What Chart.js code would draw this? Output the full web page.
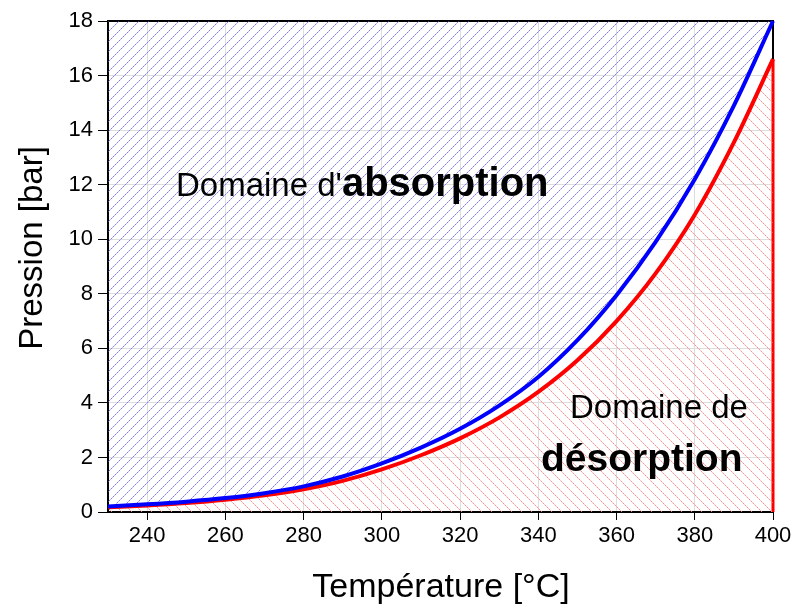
<!DOCTYPE html>
<html>
<head>
<meta charset="utf-8">
<script src="https://cdn.jsdelivr.net/npm/chart.js@4/dist/chart.umd.min.js"></script>
<style>
  html, body { margin: 0; padding: 0; background: #fff; }
  #wrap { width: 795px; height: 604px; }
</style>
</head>
<body>
<div id="wrap"><canvas id="c" width="795" height="604"></canvas></div>
<script>
// Température [°C]
const temps = [230, 240, 250, 260, 270, 280, 290, 300, 310, 320, 330, 340, 350, 360, 370, 380, 390, 400];
// Pression d'absorption (bleu) et de désorption (rouge) [bar]
const absorption = [0.20, 0.28, 0.38, 0.51, 0.69, 0.94, 1.30, 1.78, 2.36, 3.05, 3.90, 4.95, 6.30, 7.95, 9.90, 12.2, 14.9, 18.0];
const desorption = [0.17, 0.24, 0.33, 0.45, 0.61, 0.83, 1.14, 1.56, 2.08, 2.70, 3.46, 4.40, 5.56, 7.00, 8.75, 10.9, 13.55, 16.6];
const xTicks = [240, 260, 280, 300, 320, 340, 360, 380, 400];
const yTicks = [0, 2, 4, 6, 8, 10, 12, 14, 16, 18];

const FONT = "'Liberation Sans', Arial, sans-serif";

// motif hachuré pixel par pixel (dir 1 = '/', dir -1 = '\')
function hatch(rgb, dir) {
    const s = 10;
    const cv = document.createElement('canvas');
    cv.width = cv.height = s;
    const g = cv.getContext('2d');
    const img = g.createImageData(s, s);
    for (let x = 0; x < s; x++) {
        const y = dir > 0 ? s - 1 - x : x;
        const k = (y * s + x) * 4;
        img.data[k] = rgb[0];
        img.data[k + 1] = rgb[1];
        img.data[k + 2] = rgb[2];
        img.data[k + 3] = x % 2 ? 230 : 130;
    }
    g.putImageData(img, 0, 0);
    return g.createPattern(cv, 'repeat');
}

const ctx = document.getElementById('c').getContext('2d');

const pts = arr => temps.map((t, i) => ({ x: t, y: arr[i] }));
const last = desorption[desorption.length - 1];

const frame = {
    id: 'frame',
    beforeDatasetsDraw(chart) {
        const { ctx, chartArea: a } = chart;
        ctx.save();
        ctx.strokeStyle = '#000';
        ctx.lineWidth = 2;
        ctx.beginPath();
        ctx.moveTo(a.left, a.top);
        ctx.lineTo(a.right, a.top);
        ctx.lineTo(a.right, a.bottom);
        ctx.stroke();
        ctx.restore();
    },
    afterDatasetsDraw(chart) {
        const { ctx } = chart;
        ctx.save();
        ctx.fillStyle = '#000';
        ctx.textBaseline = 'alphabetic';
        const mixed = (x, y, parts) => {
            parts.forEach(([txt, font]) => {
                ctx.font = font;
                ctx.fillText(txt, x, y);
                x += ctx.measureText(txt).width;
            });
        };
        mixed(176, 196, [["Domaine d'", '33px ' + FONT], ['absorption', 'bold 40px ' + FONT]]);
        ctx.font = '33px ' + FONT;
        ctx.fillText('Domaine de', 570, 418);
        ctx.font = 'bold 39px ' + FONT;
        ctx.fillText('désorption', 541, 471);

        // titres des axes
        ctx.font = '34px ' + FONT;
        ctx.textAlign = 'center';
        ctx.fillText('Température [°C]', 441, 597);
        ctx.font = '33px ' + FONT;
        ctx.translate(42, 248);
        ctx.rotate(-Math.PI / 2);
        ctx.fillText('Pression [bar]', 0, 0);
        ctx.restore();
    }
};

new Chart(ctx, {
    type: 'line',
    data: {
        datasets: [{
            data: pts(absorption),
            borderColor: '#0000ff',
            borderWidth: 4,
            backgroundColor: hatch([110, 110, 250], 1),
            fill: 'end',
            pointRadius: 0,
            cubicInterpolationMode: 'monotone',
            clip: 4,
        }, {
            data: pts(desorption),
            borderColor: '#ff0000',
            borderWidth: 4,
            backgroundColor: hatch([255, 130, 130], -1),
            fill: 'origin',
            pointRadius: 0,
            cubicInterpolationMode: 'monotone',
            clip: 4,
        }, {
            data: [{ x: temps[temps.length - 1], y: 0 }, { x: temps[temps.length - 1], y: last }],
            borderColor: '#ff0000',
            borderWidth: 3,
            pointRadius: 0,
            fill: false,
            clip: 4,
        }],
    },
    options: {
        responsive: false,
        animation: false,
        layout: { padding: { left: 0, top: 21, right: 22, bottom: 0 } },
        plugins: { legend: { display: false }, tooltip: { enabled: false } },
        scales: {
            x: {
                type: 'linear',
                min: 230,
                max: 400,
                afterBuildTicks: s => { s.ticks = xTicks.map(v => ({ value: v })); },
                afterFit: s => { s.height = 92; },
                grid: { color: '#dddddd', tickColor: '#000', tickLength: 8, lineWidth: 1 },
                border: { color: '#000', width: 2 },
                ticks: { color: '#000', font: { family: FONT, size: 22 }, padding: 3, maxRotation: 0 },
            },
            y: {
                min: 0,
                max: 18,
                afterBuildTicks: s => { s.ticks = yTicks.map(v => ({ value: v })); },
                afterFit: s => { s.width = 108; },
                grid: { color: '#dddddd', tickColor: '#000', tickLength: 10, lineWidth: 1 },
                border: { color: '#000', width: 2 },
                ticks: { color: '#000', font: { family: FONT, size: 22 }, padding: 5 },
            },
        },
    },
    plugins: [frame],
});
</script>
</body>
</html>
